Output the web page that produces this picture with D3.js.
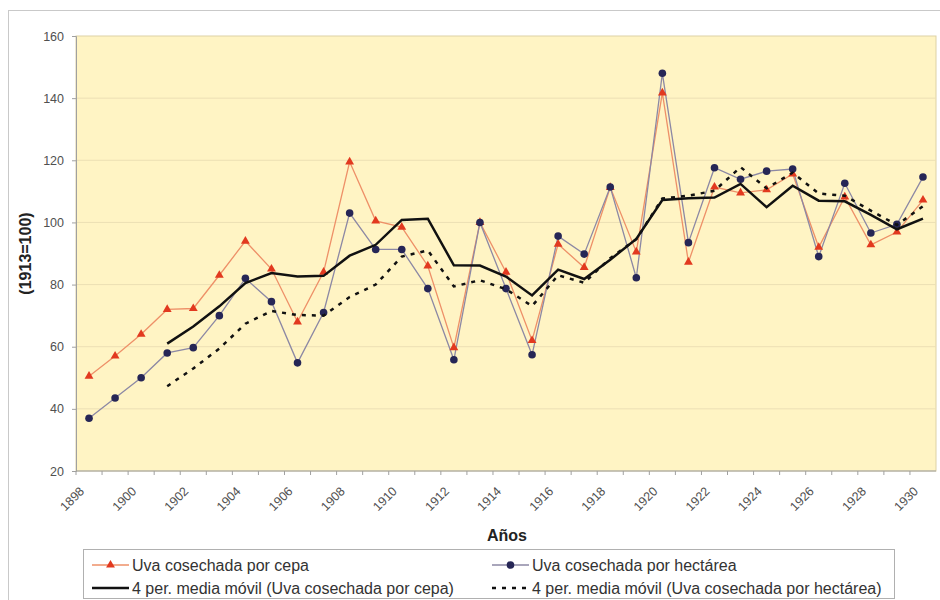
<!DOCTYPE html>
<html>
<head>
<meta charset="utf-8">
<script src="https://cdn.jsdelivr.net/npm/d3@7"></script>
<style>
  body { margin: 0; background: #fff; }
  text { font-family: "Liberation Sans", Arial, sans-serif; }
  .tick-label { font-size: 12.5px; fill: #505050; }
  .axis-title { font-size: 16px; font-weight: bold; fill: #222; }
  .legend-text { font-size: 16px; fill: #333; }
</style>
</head>
<body>
<svg width="940" height="600"></svg>
<script>
const YEARS = [
  1898, 1899, 1900, 1901, 1902, 1903, 1904, 1905, 1906, 1907, 1908,
  1909, 1910, 1911, 1912, 1913, 1914, 1915, 1916, 1917, 1918, 1919,
  1920, 1921, 1922, 1923, 1924, 1925, 1926, 1927, 1928, 1929, 1930,
];
const porCepa = [
  50.5, 57, 64, 72, 72.3, 83, 94, 85, 68, 84, 119.5,
  100.5, 98.5, 86, 59.7, 100, 84, 62, 93, 85.5, 111.3, 90.5,
  141.7, 87.2, 111.4, 109.5, 110.5, 115.6, 92, 108.2, 92.8, 96.9, 107.2,
];
const porHectarea = [
  37, 43.5, 50, 58, 59.7, 70, 82, 74.5, 54.8, 71, 103,
  91.3, 91.3, 78.7, 55.8, 100, 78.7, 57.4, 95.6, 89.8, 111.4, 82.2,
  148, 93.5, 117.6, 113.9, 116.5, 117.2, 89, 112.6, 96.6, 99.4, 114.6,
];
const mediaCepa = [
  null, null, null, 61, 66.5, 73, 80.5, 83.7, 82.6, 82.8, 89.3,
  92.8, 100.8, 101.2, 86.2, 86.1, 82.6, 76.5, 84.8, 81.8, 88, 94.7,
  107.2, 107.8, 108, 112.4, 104.9, 111.8, 107, 106.8, 102.4, 97.8, 101.2,
];
const mediaHectarea = [
  null, null, null, 47.3, 53, 59.4, 67.4, 71.5, 70.2, 70, 76,
  80, 89, 91, 79.4, 81.4, 78.5, 73.1, 83, 80.6, 88.5, 94.6,
  107.7, 108.6, 110.2, 117.8, 111, 116, 109.3, 108.6, 103.8, 99.2, 105.2,
];
const Y_TICKS = [20, 40, 60, 80, 100, 120, 140, 160];
const X_LABELS = YEARS.filter((d) => d % 2 === 0);

const render = () => {
  const svg = d3.select("svg");
  const plot = { left: 76, top: 36, right: 936, bottom: 471 };

  // outer frame
  svg.append("rect")
    .attr("x", 8.5).attr("y", 10.5)
    .attr("width", 940).attr("height", 600)
    .attr("fill", "#fff").attr("stroke", "#c9c9c9");

  const xScale = d3.scaleBand().domain(YEARS).range([plot.left, plot.right]);
  const yScale = d3.scaleLinear().domain([20, 160]).range([plot.bottom, plot.top]);
  const xc = (d) => xScale(d) + xScale.bandwidth() / 2;

  svg.append("rect")
    .attr("x", plot.left).attr("y", plot.top)
    .attr("width", plot.right - plot.left)
    .attr("height", plot.bottom - plot.top)
    .attr("fill", "#fff4c4")
    .attr("stroke", "#ddd2a6");

  // grid
  svg.append("g")
    .selectAll("line")
    .data(Y_TICKS.filter((d) => d > 20 && d < 160))
    .join("line")
    .attr("x1", plot.left).attr("x2", plot.right)
    .attr("y1", (d) => yScale(d)).attr("y2", (d) => yScale(d))
    .attr("stroke", "#ecdfb4");

  // y axis
  const yAxis = d3.axisLeft(yScale).tickValues(Y_TICKS).tickSize(4).tickPadding(8);
  const yAxisG = svg.append("g")
    .attr("transform", `translate(${plot.left},0)`)
    .call(yAxis);
  yAxisG.select(".domain").attr("stroke", "#a0a0a0");
  yAxisG.selectAll(".tick line").attr("stroke", "#a0a0a0");
  yAxisG.selectAll(".tick text")
    .attr("class", "tick-label")
    .attr("font-family", null).attr("font-size", null).attr("fill", null);

  // x axis
  const xAxisG = svg.append("g");
  xAxisG.append("line")
    .attr("x1", plot.left).attr("x2", plot.right)
    .attr("y1", plot.bottom).attr("y2", plot.bottom)
    .attr("stroke", "#a0a0a0");
  xAxisG.selectAll(".xtick")
    .data(YEARS)
    .join("line")
    .attr("class", "xtick")
    .attr("x1", (d) => xScale(d)).attr("x2", (d) => xScale(d))
    .attr("y1", plot.bottom).attr("y2", plot.bottom + 4)
    .attr("stroke", "#a0a0a0");
  xAxisG.selectAll(".xlabel")
    .data(X_LABELS)
    .join("text")
    .attr("class", "tick-label xlabel")
    .attr("text-anchor", "end")
    .attr("transform", (d) => `translate(${xc(d) - 4},${plot.bottom + 21}) rotate(-45)`)
    .text((d) => d);

  svg.append("text")
    .attr("class", "axis-title")
    .attr("text-anchor", "middle")
    .attr("x", 507).attr("y", 541)
    .text("Años");
  svg.append("text")
    .attr("class", "axis-title")
    .attr("text-anchor", "middle")
    .attr("transform", `translate(31,${(plot.top + plot.bottom) / 2}) rotate(-90)`)
    .text("(1913=100)");

  const line = (values) =>
    d3.line()
      .defined((d, i) => values[i] != null)
      .x((d) => xc(d))
      .y((d, i) => yScale(values[i]))(YEARS);

  const series = svg.append("g");
  series.append("path")
    .attr("d", line(porCepa))
    .attr("fill", "none").attr("stroke", "#ee9068").attr("stroke-width", 1.3);
  series.append("path")
    .attr("d", line(porHectarea))
    .attr("fill", "none").attr("stroke", "#8c88a4").attr("stroke-width", 1.3);

  const tri = d3.symbol().type(d3.symbolTriangle).size(34);
  series.selectAll(".tri")
    .data(YEARS)
    .join("path")
    .attr("class", "tri")
    .attr("d", tri)
    .attr("transform", (d, i) => `translate(${xc(d)},${yScale(porCepa[i])})`)
    .attr("fill", "#e2391f");
  series.selectAll(".dot")
    .data(YEARS)
    .join("circle")
    .attr("class", "dot")
    .attr("cx", (d) => xc(d))
    .attr("cy", (d, i) => yScale(porHectarea[i]))
    .attr("r", 3.8)
    .attr("fill", "#262656");

  series.append("path")
    .attr("d", line(mediaCepa))
    .attr("fill", "none").attr("stroke", "#111").attr("stroke-width", 2.5);
  series.append("path")
    .attr("d", line(mediaHectarea))
    .attr("fill", "none").attr("stroke", "#111").attr("stroke-width", 2.5)
    .attr("stroke-dasharray", "4,6");

  // legend
  const legend = svg.append("g");
  legend.append("rect")
    .attr("x", 83.5).attr("y", 549.5)
    .attr("width", 811).attr("height", 49)
    .attr("fill", "#fff").attr("stroke", "#b0b0b0");
  const items = [
    { name: "Uva cosechada por cepa", x: 92, y: 565, color: "#ee9068", w: 1.3, dash: null, mark: "tri" },
    { name: "Uva cosechada por hectárea", x: 492, y: 565, color: "#8c88a4", w: 1.3, dash: null, mark: "dot" },
    { name: "4 per. media móvil (Uva cosechada por cepa)", x: 92, y: 588, color: "#111", w: 2.5, dash: null, mark: null },
    { name: "4 per. media móvil (Uva cosechada por hectárea)", x: 492, y: 588, color: "#111", w: 2.5, dash: "4,6", mark: null },
  ];
  items.forEach((it) => {
    const g = legend.append("g").attr("transform", `translate(${it.x},${it.y})`);
    g.append("line")
      .attr("x1", 0).attr("x2", 37)
      .attr("stroke", it.color).attr("stroke-width", it.w)
      .attr("stroke-dasharray", it.dash);
    if (it.mark === "tri") {
      g.append("path").attr("d", tri).attr("transform", "translate(18.5,0)").attr("fill", "#e2391f");
    } else if (it.mark === "dot") {
      g.append("circle").attr("cx", 18.5).attr("r", 3.8).attr("fill", "#262656");
    }
    g.append("text")
      .attr("class", "legend-text")
      .attr("x", 40).attr("dy", "0.35em")
      .text(it.name);
  });
};

render();
</script>
</body>
</html>
